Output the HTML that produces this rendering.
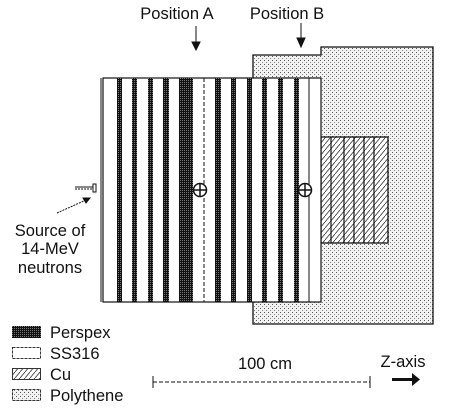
<!DOCTYPE html>
<html><head><meta charset="utf-8"><style>
html,body{margin:0;padding:0;background:#fff;}
svg{display:block;font-family:"Liberation Sans",sans-serif;}
text{font-size:16.5px;fill:#111;}
</style></head><body>
<svg width="451" height="414" viewBox="0 0 451 414">
<defs>
<pattern id="poly" width="4" height="4" patternUnits="userSpaceOnUse"><rect width="4" height="4" fill="#f2f2f2"/><rect x="0" y="0" width="1" height="1" fill="#555"/><rect x="2" y="2" width="1" height="1" fill="#888"/></pattern>
<pattern id="persp" width="2" height="2" patternUnits="userSpaceOnUse"><rect width="2" height="2" fill="#111"/><rect x="0" y="0" width="1" height="1" fill="#777"/></pattern>
<pattern id="cu" width="5" height="6" patternUnits="userSpaceOnUse"><rect width="5" height="6" fill="#fff"/><line x1="0" y1="6" x2="5" y2="0" stroke="#333" stroke-width="0.8"/></pattern>
</defs>
<g>
<path d="M253,55 L321,55 L321,47 L433,47 L433,324 L253,324 Z" fill="url(#poly)" stroke="#111" stroke-width="1.3"/>
</g>
<g>
<rect x="321" y="137" width="67" height="106" fill="url(#cu)" stroke="#111" stroke-width="1.3"/>
<g stroke="#111" stroke-width="1.2">
<line x1="331" y1="137" x2="331" y2="243"/><line x1="344" y1="137" x2="344" y2="243"/><line x1="354" y1="137" x2="354" y2="243"/><line x1="364" y1="137" x2="364" y2="243"/><line x1="374" y1="137" x2="374" y2="243"/>
</g>
</g>
<g>
<rect x="103" y="78" width="218" height="224" fill="#fff" stroke="#111" stroke-width="1.2"/>
<line x1="101" y1="78" x2="101" y2="302" stroke="#111"/>
<g fill="url(#persp)">
<rect x="117" y="78" width="5" height="224"/><rect x="132" y="78" width="5" height="224"/><rect x="148" y="78" width="5" height="224"/><rect x="163" y="78" width="6" height="224"/><rect x="179" y="78" width="14" height="224"/><rect x="215" y="78" width="6" height="224"/><rect x="231" y="78" width="5" height="224"/><rect x="247" y="78" width="5" height="224"/><rect x="262" y="78" width="5" height="224"/><rect x="278" y="78" width="5" height="224"/><rect x="294" y="78" width="5" height="224"/>
</g>
<line x1="204" y1="78" x2="204" y2="302" stroke="#111" stroke-dasharray="4,2"/>
<line x1="309" y1="78" x2="309" y2="302" stroke="#111"/>
</g>
<g stroke="#111" stroke-width="1.5" fill="#fff"><circle cx="200" cy="190" r="6.5"/><line x1="193.5" y1="190" x2="206.5" y2="190"/><line x1="200" y1="183.5" x2="200" y2="196.5"/></g>
<g stroke="#111" stroke-width="1.5" fill="#fff"><circle cx="305" cy="190" r="6.5"/><line x1="298.5" y1="190" x2="311.5" y2="190"/><line x1="305" y1="183.5" x2="305" y2="196.5"/></g>
<g stroke="#111" fill="#fff"><line x1="75" y1="187" x2="93" y2="187"/><line x1="75" y1="189" x2="93" y2="189" stroke-dasharray="2,1"/><rect x="93" y="184" width="3" height="8"/></g>
<g stroke="#111" fill="#111"><line x1="57" y1="213" x2="86" y2="200" stroke-dasharray="2,1"/><path d="M90,198 L83,198 L86,203 Z"/></g>
<text x="50" y="236" text-anchor="middle">Source of</text>
<text x="50" y="254" text-anchor="middle">14-MeV</text>
<text x="50" y="273" text-anchor="middle">neutrons</text>
<text x="177" y="19" text-anchor="middle">Position A</text>
<text x="287" y="19" text-anchor="middle">Position B</text>
<g stroke="#111" fill="#111"><line x1="196" y1="26" x2="196" y2="44"/><path d="M192,42 L200,42 L196,50 Z"/></g>
<g stroke="#111" fill="#111"><line x1="301" y1="23" x2="301" y2="40"/><path d="M297,38 L305,38 L301,47 Z"/></g>
<g>
<rect x="12" y="326" width="29" height="12" fill="url(#persp)"/><text x="50" y="338">Perspex</text>
<rect x="12.5" y="347.5" width="28" height="11" fill="#fff" stroke="#333" stroke-dasharray="3,1"/><text x="50" y="359">SS316</text>
<rect x="12.5" y="368.5" width="28" height="11" fill="url(#cu)" stroke="#333"/><text x="50" y="380">Cu</text>
<rect x="12.5" y="389.5" width="28" height="11" fill="url(#poly)" stroke="#333" stroke-dasharray="3,1"/><text x="50" y="401">Polythene</text>
</g>
<g stroke="#111">
<line x1="153" y1="382" x2="370" y2="382" stroke-dasharray="4,2"/><line x1="153" y1="376" x2="153" y2="388"/><line x1="370" y1="376" x2="370" y2="388"/>
</g>
<text x="265" y="369" text-anchor="middle">100 cm</text>
<text x="403" y="367" text-anchor="middle">Z-axis</text>
<g fill="#111"><rect x="392" y="378" width="24" height="3"/><path d="M412,373 L420,379.5 L412,386 Z"/></g>
</svg>
</body></html>
